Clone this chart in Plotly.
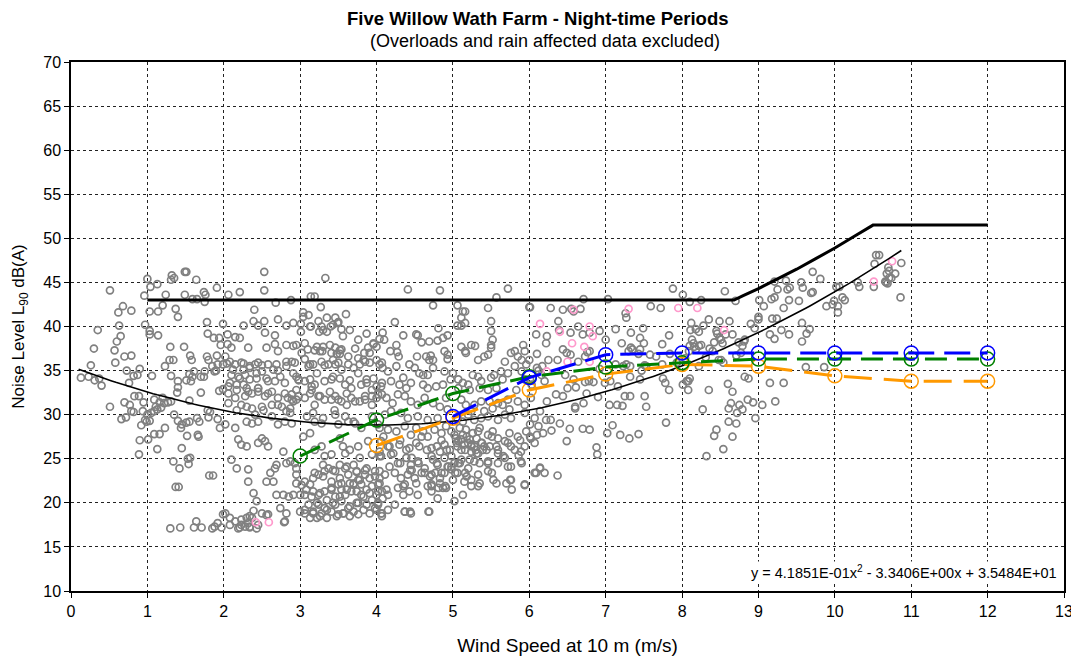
import numpy as np
import plotly.graph_objects as go

# ---------------- data ----------------
grey_0_1 = [(0.51,44.1),(0.96,43.5),(0.68,42.3),(0.62,41.6),(0.79,41.8),(0.35,39.6),(0.63,40.1),(0.65,38.9),(0.60,38.3),(0.97,40.2),(0.30,37.5),(0.57,37.3),(0.70,36.6),(0.79,36.7),(0.58,35.9),(0.26,35.6),(0.13,34.2),(0.23,34.3),(0.31,33.9),(0.40,33.3),(0.37,34.1),(0.73,35.0),(0.82,34.4),(0.87,34.5),(0.90,35.2),(0.76,33.6),(0.83,32.1),(0.89,32.1),(0.51,30.9),(0.70,31.4),(0.77,31.1),(0.79,30.4),(0.82,30.3),(0.66,29.5),(0.72,29.7),(0.94,30.4),(0.92,28.8),(0.89,25.5),(0.97,29.4),(0.99,29.2),(0.95,31.4),(0.90,27.1)]

grey_1_2 = [(1.00,45.4),(1.04,44.5),(1.13,44.8),(1.32,45.8),(1.35,45.5),(1.31,45.3),(1.49,46.2),(1.51,46.2),(1.64,45.3),(1.24,43.6),(1.49,43.6),(1.59,43.1),(1.65,43.1),(1.74,43.9),(1.76,43.6),(1.75,42.8),(1.91,44.4),(1.03,41.7),(1.14,41.7),(1.20,42.4),(1.37,42.0),(1.40,41.1),(1.03,39.5),(1.03,39.1),(1.14,39.0),(1.78,40.5),(1.79,39.2),(1.87,38.7),(1.94,38.7),(1.99,40.3),(1.30,37.7),(1.48,37.7),(1.56,36.7),(1.58,36.2),(1.78,36.6),(1.80,36.2),(1.91,36.7),(1.96,37.9),(1.85,35.5),(1.92,35.7),(1.99,35.7),(1.90,35.0),(1.88,34.9),(1.29,36.2),(1.34,36.2),(1.23,35.5),(1.06,34.4),(1.31,34.4),(1.40,33.8),(1.55,34.6),(1.51,33.9),(1.57,33.8),(1.59,34.3),(1.61,34.9),(1.70,34.3),(1.74,34.3),(1.75,34.9),(1.40,33.1),(1.39,32.5),(1.70,32.5),(1.55,31.6),(1.94,32.7),(1.99,32.9),(1.00,30.0),(1.05,30.2),(1.03,29.3),(1.09,31.7),(1.11,30.9),(1.16,31.4),(1.09,30.4),(1.18,30.8),(1.22,31.3),(1.27,31.4),(1.31,31.5),(1.20,31.9),(1.13,30.6),(1.35,30.0),(1.40,29.3),(1.45,28.9),(1.51,29.1),(1.55,29.2),(1.44,28.5),(1.52,27.6),(1.65,29.6),(1.68,29.2),(1.66,27.7),(1.67,27.5),(1.79,30.5),(1.82,30.3),(1.80,29.7),(1.92,29.5),(1.95,28.5),(1.23,28.5),(1.09,27.8),(1.16,27.8),(1.01,27.2),(1.13,26.1),(1.45,26.2),(1.34,24.7),(1.53,25.0),(1.56,25.1),(1.54,24.4),(1.42,23.9),(1.81,23.1),(1.86,23.1),(1.37,21.8),(1.41,21.8),(1.30,17.1),(1.43,17.2),(1.64,17.9),(1.61,17.2),(1.71,17.2),(1.85,17.1),(1.88,17.3),(1.92,17.7),(1.99,18.7),(1.97,17.2)]

grey_2_4 = [(2.53,46.2),(3.33,45.5),(2.06,43.6),(2.21,43.9),(2.53,44.1),(2.68,42.7),(2.88,43.0),(3.14,43.4),(3.19,43.4),(2.40,41.9),(3.27,42.2),(3.04,41.6),(3.11,41.3),(3.35,41.0),(3.46,41.0),(3.50,40.5),(3.60,41.4),
 (2.26,40.1),(2.39,40.6),(2.45,40.1),(2.53,40.6),(2.71,40.8),(2.82,40.1),(2.91,40.4),(3.01,40.3),(3.01,39.4),(3.14,40.0),(3.25,39.4),(3.28,40.0),(3.30,39.6),(3.40,40.0),(3.49,40.4),(3.54,39.7),
 (2.05,39.1),(2.15,38.8),(2.21,38.7),(2.54,39.3),(2.67,39.0),(2.05,38.0),(2.10,37.6),(2.32,37.6),(2.56,37.6),(2.67,38.0),(2.71,37.2),(2.82,37.9),(2.91,37.8),(2.95,37.9),(3.02,37.0),(3.10,37.4),(3.22,37.7),(3.26,37.2),(3.29,37.2),(3.39,37.9),(3.46,37.6),(3.54,37.4),(3.48,36.9),(3.52,36.9),(3.84,37.0),(3.89,37.6),(3.96,38.0),(4.00,37.7),(4.04,38.6),
 (2.02,36.6),(2.08,36.0),(2.15,35.7),(2.23,35.9),(2.26,35.1),(2.34,35.5),(2.41,35.7),(2.45,35.9),(2.50,34.9),(2.58,35.7),(2.69,35.7),(2.71,35.0),(2.82,36.0),(2.89,36.0),(2.93,35.9),(3.06,36.3),(3.13,35.7),(3.17,35.7),(3.28,36.0),(3.37,35.7),(3.43,36.2),(3.46,35.7),(3.50,35.9),(3.63,35.7),(3.70,35.3),(3.76,36.4),(3.78,35.7),(3.85,36.0),(3.91,35.9),(4.00,36.2),(4.04,35.7),
 (2.10,34.5),(2.21,34.1),(2.28,34.5),(2.34,34.0),(2.43,34.1),(2.58,33.8),(2.67,33.8),(2.80,33.6),(2.95,34.3),(2.98,34.0),(3.06,33.8),(3.13,34.0),(3.15,33.2),(3.19,33.4),(3.32,33.8),(3.41,34.0),(3.52,34.1),(3.59,33.4),(3.67,33.0),(3.80,33.4),(3.87,34.0),(3.94,32.8),(4.00,33.2),(4.07,33.6),(2.06,33.2),(2.17,33.4),(2.30,33.0),(2.45,33.0),
 (2.06,32.4),(2.15,31.9),(2.28,32.1),(2.32,32.6),(2.45,32.6),(2.58,32.4),(2.63,31.1),(2.71,31.1),(2.84,31.9),(2.89,32.3),(2.91,31.5),(2.95,31.7),(2.98,32.1),(3.06,31.9),(3.13,32.4),(3.19,31.1),(3.24,32.1),(3.32,31.7),(3.41,31.7),(3.46,32.1),(3.54,31.5),(3.61,31.1),(3.67,31.9),(3.78,31.5),(3.85,31.7),(3.94,32.1),(4.00,31.9),(4.07,32.3),(2.23,31.1),(2.37,30.7),(2.50,30.9),(2.82,30.4),(2.87,30.7),
 (2.02,28.9),(2.15,28.5),(2.30,29.2),(2.37,29.0),(2.45,29.2),(2.71,28.9),(2.80,29.2),(2.89,29.0),(3.09,29.8),(3.19,29.2),(3.28,29.0),(3.46,30.0),(3.50,28.9),(3.63,29.2),(3.72,29.0),(3.80,28.5),(3.94,29.8),(4.04,28.5),
 (2.19,27.2),(2.23,26.6),(2.30,26.4),(2.45,26.8),(2.50,27.3),(2.58,26.4),(2.54,27.0),(2.78,25.8),(2.82,24.5),(2.87,24.7),(3.04,27.5),(3.13,27.9),(3.19,26.0),(3.28,26.4),(3.32,25.3),(3.41,25.5),(3.52,27.3),(3.56,26.4),(3.59,25.6),(3.65,26.0),(3.76,26.4),(3.78,25.1),(3.89,27.0),(3.94,25.5),(4.04,25.8),(4.04,25.3),(2.10,24.9),(2.17,23.9),
 (2.32,23.8),(2.61,23.4),(2.67,23.9),(2.69,24.3),(2.93,24.5),(2.95,23.9),(2.95,23.2),(2.95,22.2),(3.06,22.4),(3.13,22.1),(3.17,22.8),(3.24,23.2),(3.30,24.3),(3.32,23.6),(3.37,23.9),(3.46,23.6),(3.52,24.3),(3.52,22.8),(3.59,23.9),(3.63,23.2),(3.65,22.2),(3.70,24.3),(3.74,23.6),(3.76,22.6),(3.80,22.1),(3.85,23.2),(3.87,23.9),(3.91,22.8),(3.98,23.6),(4.02,22.1),(4.04,22.8),(2.32,22.4),(2.39,21.1),(2.43,20.2),(2.56,22.4),(2.65,22.4),(2.69,20.9),(2.78,20.9),(2.85,20.7),(2.91,20.9),(3.00,20.9),(3.06,20.9),(3.17,21.3),(3.24,20.9),(3.32,21.3),(3.41,21.7),(3.46,20.7),(3.54,21.5),(3.59,20.9),(3.67,21.3),(3.74,21.3),(3.80,20.9),(3.94,21.9),(4.00,20.9),(4.07,21.3),(3.41,22.4),(3.50,22.1),(3.70,22.1),
 (2.02,18.8),(2.08,18.3),(2.15,17.9),(2.23,17.5),(2.28,17.3),(2.32,17.7),(2.37,18.3),(2.45,17.5),(2.50,18.8),(2.58,18.7),(2.74,19.4),(2.80,17.9),(2.82,18.8),(3.00,19.0),(3.06,18.8),(3.13,18.3),(3.17,19.0),(3.22,18.3),(3.28,18.8),(3.32,19.4),(3.35,18.3),(3.41,19.0),(3.46,19.8),(3.50,18.7),(3.56,18.8),(3.63,19.4),(3.65,18.5),(3.70,19.0),(3.76,18.7),(3.83,19.2),(3.87,19.8),(3.91,18.8),(3.98,19.4),(4.02,20.0),(4.07,18.8),(2.08,17.5),(2.19,17.1),(2.34,17.3),(2.43,17.1),(3.11,19.8),(3.24,19.8),(3.54,20.2),(3.76,20.0),
 (2.21,17.2),(2.34,17.2),(2.23,18.1),(2.30,18.3),(2.34,18.5),(2.39,19.1),(2.56,18.6),(2.79,17.8)]

grey_2_4_dense = [(3.02,22.0),(3.08,21.5),(3.15,20.7),(3.22,20.0),(3.06,19.2),(3.17,18.8),(3.26,18.5),(3.35,19.2),(3.43,20.0),(3.52,20.7),(3.61,21.5),(3.70,22.2),(3.78,22.6),(3.87,21.5),(3.94,20.3),(4.00,19.2),(4.07,18.5),(3.48,18.5),(3.57,18.8),(3.65,19.6),(3.74,20.0),(3.83,20.7),(3.91,21.1),(3.26,21.1),(3.35,20.3),(3.41,21.5),(3.54,22.2),(3.30,23.0),(3.19,23.4),(3.43,23.7),(3.61,24.1),(3.74,23.5),(3.85,23.7),(3.98,23.0),(4.04,22.2),
 (2.04,35.8),(2.12,35.1),(2.19,34.3),(2.26,35.8),(2.34,35.3),(2.43,34.7),(2.50,35.6),(2.56,34.1),(2.65,35.1),(2.74,34.3),(2.82,35.5),(2.91,34.7),(2.98,33.9),(2.08,33.6),(2.17,32.8),(2.26,33.4),(2.37,32.4),(2.45,33.0),(2.54,32.1),(2.63,32.6),(2.71,31.9),(2.80,32.4),(2.89,31.7),(2.95,32.8),(2.06,31.3),(2.17,30.5),(2.30,30.9),(2.41,30.0),(2.52,30.5),(2.63,29.8),(2.76,30.9),(2.87,30.2),
 (3.04,41.1),(3.13,40.0),(3.24,40.6),(3.35,39.4),(3.43,40.2),(3.56,38.9),(3.65,39.6),(3.76,38.5),(3.87,39.2),(3.96,38.1),(3.06,38.1),(3.19,37.3),(3.30,37.7),(3.41,37.0),(3.52,37.3),(3.63,36.6),(3.72,37.5),(3.83,36.2),(3.91,37.0),(3.11,35.5),(3.22,34.7),(3.32,35.6),(3.43,34.3),(3.54,35.1),(3.65,33.9),(3.76,34.7),(3.87,33.6),(3.96,34.1),(3.15,32.8),(3.26,32.1),(3.39,32.6),(3.50,31.7),(3.61,32.4),(3.72,31.5),(3.85,32.1),(3.94,31.1),(3.17,30.2),(3.30,29.6),(3.45,30.5),(3.59,29.8),(3.70,29.2)]

grey_4_6 = [(4.41,44.2),(4.83,44.1),(5.72,44.3),(5.57,43.3),(4.74,42.4),(5.06,42.4),(5.46,42.1),(6.00,42.2),(5.13,41.7),(5.16,41.7),(5.11,41.0),(5.16,40.4),(5.06,40.1),(5.11,40.1),(5.50,40.6),(4.81,39.8),
 (4.24,40.5),(4.08,39.3),(4.35,39.0),(4.52,39.1),(4.54,39.0),(4.59,38.2),(4.69,38.3),(4.80,38.4),(4.87,38.7),(4.93,39.0),(5.50,39.5),(5.52,38.5),(4.10,38.5),
 (4.18,37.2),(4.26,37.9),(4.27,37.1),(4.29,36.6),(4.53,36.6),(4.65,36.6),(4.71,36.7),(4.69,36.2),(4.74,36.2),(4.89,37.2),(4.93,36.8),(4.93,36.3),(5.11,37.7),(5.16,37.2),(5.17,37.0),(5.24,37.9),(5.29,37.8),(5.33,36.2),(5.41,36.6),(5.46,36.8),(5.50,37.9),(5.50,37.6),(5.68,36.0),(5.76,37.0),(5.81,37.2),(5.85,36.6),(5.90,36.2),(5.92,37.9),(5.94,37.2),(6.00,36.2),
 (4.07,35.9),(4.08,35.3),(4.15,34.9),(4.26,35.5),(4.35,34.2),(4.43,35.7),(4.50,35.3),(4.56,34.7),(4.61,34.5),(4.67,34.5),(4.74,35.3),(4.89,34.9),(4.97,34.0),(5.00,34.7),(5.07,34.0),(5.13,33.6),(5.20,33.4),(5.26,34.5),(5.33,34.3),(5.37,33.8),(5.50,34.2),(5.54,34.5),(5.63,34.9),(5.65,34.0),(5.72,34.7),(5.81,35.5),(5.90,34.9),(5.96,35.7),(4.06,33.2),(4.19,33.8),(4.30,33.4),(4.39,33.0),(4.45,33.6),(4.61,33.4),(4.67,33.0),(4.78,33.2),(4.87,33.4),(5.07,33.0),(5.22,32.8),(5.35,33.0),(5.46,32.8),(5.57,33.0),(5.83,32.8),(5.94,34.0),(6.03,33.4),
 (4.02,32.3),(4.13,31.9),(4.21,31.3),(4.28,32.3),(4.37,32.1),(4.45,31.5),(4.54,31.1),(4.63,31.9),(4.74,31.3),(4.83,30.9),(4.91,31.9),(4.93,30.6),(5.11,31.7),(5.17,31.1),(5.24,30.4),(5.28,31.1),(5.37,31.5),(5.41,30.4),(5.48,31.5),(5.52,30.7),(5.59,31.3),(5.65,31.1),(5.72,31.7),(5.74,30.6),(5.85,31.5),(5.94,31.1),(6.02,31.9),(4.11,30.0),(4.19,30.4),(4.32,30.2),(4.41,29.6),(4.54,29.8),(4.67,29.4),(4.80,29.6),(5.06,29.6),(5.13,29.2),(5.20,30.0),(5.28,29.4),(5.37,29.6),(5.46,29.8),(5.59,29.4),(5.68,30.0),(5.76,29.6),(5.94,30.2),(6.07,29.6),
 (4.02,28.9),(4.15,28.3),(4.26,28.1),(4.37,28.7),(4.45,27.7),(4.52,28.5),(4.61,28.1),(4.67,27.5),(4.76,28.3),(4.85,27.9),(4.91,28.7),(4.98,28.1),(5.04,27.3),(5.09,28.5),(5.13,27.7),(5.17,28.3),(5.22,27.2),(5.26,27.9),(5.31,27.3),(5.35,28.5),(5.37,26.8),(5.41,26.4),(5.46,27.7),(5.52,28.1),(5.59,27.3),(5.68,27.0),(5.74,27.9),(5.85,27.5),(5.96,28.1),(6.02,27.3),(4.06,27.0),(4.17,26.4),(4.30,26.6),(4.43,26.2),(4.56,26.4),(4.72,26.2),(4.83,25.8),(4.89,26.6),(4.96,26.0),(5.06,26.4),(5.15,26.6),(5.24,25.8),(5.30,26.0),(5.39,26.0),(5.48,26.4),(5.59,26.0),(5.76,26.4),(5.89,25.8),(6.07,26.8),(5.02,27.7),(5.11,27.2),(5.20,26.8),(5.28,26.4),(5.33,28.1),
 (4.06,25.3),(4.19,25.5),(4.28,24.5),(4.39,25.1),(4.45,24.3),(4.54,24.7),(4.63,23.9),(4.74,24.9),(4.80,24.3),(4.89,25.1),(4.93,24.1),(5.02,24.5),(5.11,24.9),(5.20,23.9),(5.28,24.7),(5.46,24.7),(5.59,24.5),(5.68,25.1),(5.76,24.1),(5.89,24.7),(4.04,23.6),(4.11,23.2),(4.24,23.4),(4.32,22.8),(4.41,23.2),(4.50,22.8),(4.59,23.4),(4.72,23.2),(4.83,22.8),(4.89,23.4),(4.98,23.8),(5.06,23.4),(5.15,22.4),(5.33,23.2),(5.46,23.6),(5.57,22.2),(5.76,22.6),(5.94,22.1),(4.72,22.1),(4.87,21.7),
 (4.02,21.3),(4.08,20.5),(4.15,20.9),(4.28,21.7),(4.35,20.9),(4.37,22.1),(4.43,21.3),(4.54,20.9),(4.67,21.9),(4.72,21.3),(4.80,20.5),(4.91,21.7),(5.02,20.2),(4.06,18.8),(4.15,19.2),(4.37,19.0),(4.45,18.8),(4.69,19.0),(5.24,21.9),(5.13,20.9),(4.02,19.8),(4.24,19.8),
 (5.07,27.0),(5.16,26.0),(5.24,26.6),(5.33,25.6),(5.07,24.5),(5.03,23.4),(5.16,23.4),(5.24,22.6),(5.33,21.9),(5.46,24.5),(5.51,23.4),(5.59,25.6),(5.72,24.1),(5.75,22.6),(5.77,21.5),(5.86,25.4),(5.90,24.5),(5.94,22.0),(4.68,19.0),(4.44,19.0),(4.37,19.0),(4.81,21.7),(4.90,21.9),(4.72,21.9),(4.63,23.4),(4.55,24.5),(4.46,23.7),(4.77,23.4),(4.85,23.4),(4.94,24.1)]

grey_4_6_dense = [(4.09,27.5),(4.15,26.4),(4.22,25.6),(4.31,27.1),(4.39,26.0),(4.46,25.1),(4.52,26.8),(4.59,27.5),(4.66,26.0),(4.72,25.3),(4.79,26.4),(4.85,27.1),(4.92,26.0),(4.98,25.3),(5.05,26.8),(5.11,26.0),(5.18,27.5),(5.24,26.4),(5.31,25.6),(5.38,26.8),(5.44,26.0),(5.51,27.5),(5.57,26.4),(5.66,25.3),(5.72,26.8),(5.81,26.0),(5.88,27.1),(5.94,26.4),(4.79,24.5),(4.98,24.1),(5.09,24.5),(5.22,24.9),(5.35,24.5),(4.31,24.5),(4.44,23.7),(4.17,24.1),(4.70,23.0),(4.83,22.2),(5.00,22.6),(5.18,23.0),(5.35,22.2),(5.53,22.6),(5.70,22.2),(4.52,22.2),(4.35,21.9),(4.13,21.5)]

grey_6_8 = [(7.88,44.3),(8.01,43.6),(6.71,43.1),(7.03,43.1),(6.01,42.2),(6.28,42.1),(6.44,41.9),(6.55,42.0),(6.58,41.7),(6.67,42.0),(7.26,41.5),(7.27,41.0),(7.59,42.3),(7.72,42.1),
 (6.38,40.6),(6.39,39.6),(6.54,39.3),(6.64,40.0),(6.70,39.1),(6.79,39.3),(6.92,39.5),(7.13,39.7),(7.33,39.3),(7.49,39.8),(7.45,38.7),(7.50,38.1),(6.09,39.1),(6.22,38.1),(6.23,38.9),(7.00,38.5),(7.21,38.1),(7.74,38.0),(7.83,39.0),
 (6.10,36.9),(6.44,37.4),(6.49,37.0),(6.54,36.8),(6.73,36.6),(6.76,37.1),(6.79,37.2),(6.64,36.0),(6.37,36.2),(6.25,36.2),(7.33,37.6),(7.30,37.2),(7.35,37.4),(7.45,37.4),(7.43,36.9),(7.58,36.8),(7.66,36.6),(7.74,35.7),(7.84,36.9),(7.93,35.9),(6.92,35.2),(7.13,35.7),(7.23,35.5),(7.27,35.7),(7.32,35.5),(7.47,35.0),(7.51,35.6),(7.53,35.5),(6.17,35.5),(6.10,35.3),(6.12,35.0),(6.16,34.5),(6.20,33.8),(6.01,34.0),
 (6.47,34.5),(6.58,34.0),(6.73,33.7),(6.78,33.8),(6.84,33.7),(6.61,33.1),(6.50,33.0),(6.44,32.1),(6.35,32.3),(6.75,32.4),(6.90,32.0),(6.99,33.6),(7.06,33.8),(7.16,33.2),(7.32,34.3),(7.45,34.0),(7.75,34.1),(7.78,33.6),(7.83,32.8),(8.06,33.8),(8.01,33.4),(7.25,32.1),(7.32,32.1),(7.51,32.1),(7.53,30.9),(7.05,31.1),(7.15,31.1),(7.22,31.0),(6.71,31.3),(6.60,30.9),(6.60,30.7),(6.23,31.5),(6.14,30.4),(6.22,29.4),(6.28,29.4),(6.01,28.9),(6.12,28.7),(6.18,27.9),(6.10,27.7),(6.01,27.5),(6.29,28.2),(6.40,29.0),(6.53,28.4),(6.70,28.4),(6.79,28.3),(6.49,27.0),(7.02,27.9),(7.19,27.7),(7.31,27.3),(7.43,27.8),(7.79,29.1),(6.88,26.3),(6.89,25.5),(6.09,23.4),(6.14,24.0),(6.20,23.4),(6.37,23.1),(7.09,28.8),(6.07,23.4),(6.14,23.9)]

grey_8_11 = [(8.10,42.8),(8.25,43.0),(8.56,44.0),(8.70,42.9),(9.01,43.0),(9.07,42.3),(9.00,41.1),(9.00,40.8),(8.90,40.3),(8.95,39.8),
 (9.21,45.1),(9.36,45.2),(9.25,44.2),(9.17,43.1),(9.21,43.3),(9.33,42.1),(9.40,43.0),(9.38,44.2),(9.41,44.4),(9.53,42.9),(9.56,45.0),(9.58,44.4),(9.69,43.8),(9.71,43.9),(9.71,46.2),(9.81,45.4),(9.18,40.9),(9.24,40.9),(9.30,39.6),(9.15,39.1),(9.21,38.6),(9.40,39.1),(9.57,40.4),(9.57,38.3),(9.63,39.2),(9.67,39.7),
 (9.89,42.3),(9.97,42.5),(9.99,42.9),(10.04,42.3),(10.04,41.6),(10.10,43.3),(10.13,43.0),(10.02,44.5),(10.06,44.5),(10.30,45.0),(10.32,44.5),(10.51,44.5),(10.52,47.1),(10.54,48.1),(10.58,48.1),(10.68,46.0),(10.71,45.5),(10.74,45.5),(10.79,46.0),(10.86,43.3),(10.87,47.2),(10.67,45.0),(10.70,46.7),(10.71,46.3),(10.66,45.1),(10.69,44.9),
 (8.12,40.4),(8.11,39.6),(8.18,39.7),(8.22,39.4),(8.28,40.1),(8.35,40.8),(8.49,40.6),(8.62,40.6),(8.45,39.5),(8.46,39.2),(8.57,39.1),(8.66,39.1),(8.49,38.7),(8.51,38.5),(8.42,38.2),(8.53,38.1),(8.13,38.5),(8.15,38.1),(8.22,37.8),(8.25,37.9),(8.16,37.7),(8.18,37.4),(8.36,37.5),(8.40,37.2),(8.74,38.2),(8.79,37.8),(8.82,38.5),(8.81,38.3),(8.10,37.8),(8.09,37.2),(8.04,36.4),(8.31,36.5),(8.51,36.2),(8.71,36.7),(8.77,37.0),(8.22,35.5),(8.48,36.2),(8.54,35.9),(8.10,34.1),(8.08,33.8),(8.08,32.8),(8.35,32.8),(8.60,33.5),(8.66,32.6),(8.82,34.3),(8.87,34.1),(9.15,33.6),(9.33,33.6),(9.62,35.4),(9.86,35.4),(8.27,30.6),(8.61,30.7),(8.64,31.3),(8.75,31.1),(8.79,30.6),(8.72,30.2),(8.86,31.7),(8.93,31.4),(9.05,31.1),(9.22,31.5),(8.96,29.6),(8.61,29.2),(8.71,29.0),(8.45,28.3),(8.42,27.6),(8.66,27.5),(8.54,26.1),(8.32,25.3)]

pink_points = [(2.42,17.8),(2.59,17.8),(6.14,40.3),(6.40,39.4),(6.56,38.1),(6.72,37.7),(6.79,40.0),(6.83,38.9),(6.79,36.0),(6.50,36.0),(6.58,41.9),(7.30,42.0),(7.95,42.1),(6.23,34.9),(8.20,42.1),(8.55,39.6),(10.51,45.1),(10.75,47.4)]

# Regression curve shown on chart: y = a x^2 + b x + c
fit_coeffs = [4.1851e-01, -3.3406e+00, 3.5484e+01]
fit_x_range = [0.1, 10.87]

# Limit line
limit_ws = [1.0, 8.68, 8.8, 9.0, 9.25, 9.5, 9.75, 10.0, 10.25, 10.5, 12.0]
limit_db = [43.0, 43.0, 43.5, 44.3, 45.4, 46.5, 47.7, 48.9, 50.2, 51.5, 51.5]

# Dashed derived curves
blue_ws = [5, 6, 7, 8, 9, 10, 11, 12]
blue_db = [29.8, 34.2, 36.8, 37.0, 37.0, 37.0, 37.0, 37.0]
green_ws = [3, 4, 5, 6, 7, 8, 9, 10, 11, 12]
green_db = [25.3, 29.4, 32.4, 34.3, 35.4, 35.9, 36.3, 36.3, 36.3, 36.3]
orange_ws = [4, 5, 6, 7, 8, 9, 10, 11, 12]
orange_db = [26.5, 29.6, 32.8, 34.6, 35.7, 35.5, 34.4, 33.8, 33.8]

x_ticks = list(range(0, 14))
y_ticks = list(range(10, 75, 5))

# ---------------- figure ----------------
grey_all = grey_0_1 + grey_1_2 + grey_2_4 + grey_2_4_dense + grey_4_6 + grey_4_6_dense + grey_6_8 + grey_8_11
gx = [p[0] for p in grey_all]
gy = [p[1] for p in grey_all]
px_ = [p[0] for p in pink_points]
py_ = [p[1] for p in pink_points]

fig = go.Figure()
fig.add_trace(go.Scatter(x=gx, y=gy, mode="markers",
                         marker=dict(symbol="circle-open", size=7, color="#808080", line=dict(width=1.7))))
fig.add_trace(go.Scatter(x=px_, y=py_, mode="markers",
                         marker=dict(symbol="circle-open", size=7, color="#ff99cc", line=dict(width=1.7))))

fx = np.linspace(fit_x_range[0], fit_x_range[1], 200)
fy = np.polyval(fit_coeffs, fx)
fig.add_trace(go.Scatter(x=fx, y=fy, mode="lines", line=dict(color="black", width=1.6)))
fig.add_trace(go.Scatter(x=limit_ws, y=limit_db, mode="lines", line=dict(color="black", width=3)))

def dashed(xs, ys, color, dash):
    fig.add_trace(go.Scatter(x=xs, y=ys, mode="lines+markers",
                             line=dict(color=color, width=3, dash=dash),
                             marker=dict(symbol="circle", size=14, color="rgba(255,255,255,0)",
                                         line=dict(color=color, width=1.5))))

dashed(orange_ws, orange_db, "#ff9900", "28px,12px")
dashed(green_ws, green_db, "#008000", "22px,10px")
dashed(blue_ws, blue_db, "#0000ff", "26px,10px")

font_family = "Liberation Sans, Arial, sans-serif"
# The page body adds an 8px offset, so margins are shifted by 8px to place the plot area
fig.update_layout(
    width=1079, height=659,
    margin=dict(l=63, r=23, t=54, b=76, autoexpand=False),
    paper_bgcolor="white", plot_bgcolor="white",
    showlegend=False,
    font=dict(family=font_family, size=16, color="black"),
)
fig.add_annotation(xref="paper", yref="paper", x=0.47, y=(591 - 18) / 529, xanchor="center", yanchor="middle",
                   text="<b>Five Willow Wath Farm - Night-time Periods</b>", showarrow=False,
                   font=dict(size=18.5, family=font_family, color="black"))
fig.add_annotation(xref="paper", yref="paper", x=0.477, y=(591 - 41) / 529, xanchor="center", yanchor="middle",
                   text="(Overloads and rain affected data excluded)", showarrow=False,
                   font=dict(size=18, family=font_family, color="black"))
fig.update_xaxes(range=[0, 13], tickvals=x_ticks, showgrid=True, gridcolor="#222222", griddash="dot", gridwidth=1,
                 showline=True, linecolor="black", linewidth=1.5, mirror=True, ticks="outside", ticklen=5,
                 tickcolor="black", zeroline=False, automargin=False,
                 title=dict(text="Wind Speed at 10 m (m/s)", font=dict(size=19), standoff=20),
                 tickfont=dict(size=16))
fig.update_yaxes(range=[10, 70], tickvals=y_ticks, showgrid=True, gridcolor="#222222", griddash="dot", gridwidth=1,
                 showline=True, linecolor="black", linewidth=1.5, mirror=True, ticks="outside", ticklen=5,
                 tickcolor="black", zeroline=False, automargin=False,
                 title=dict(text="Noise Level L<sub>90</sub> dB(A)", font=dict(size=17), standoff=14),
                 tickfont=dict(size=16))
fig.add_annotation(x=12.93, y=12.1, xref="x", yref="y", xanchor="right", yanchor="middle",
                   text="y = 4.1851E-01x<sup>2</sup> - 3.3406E+00x + 3.5484E+01", bgcolor="white",
                   showarrow=False, font=dict(size=14.5, family=font_family, color="black"))

fig.write_html("out.html")
